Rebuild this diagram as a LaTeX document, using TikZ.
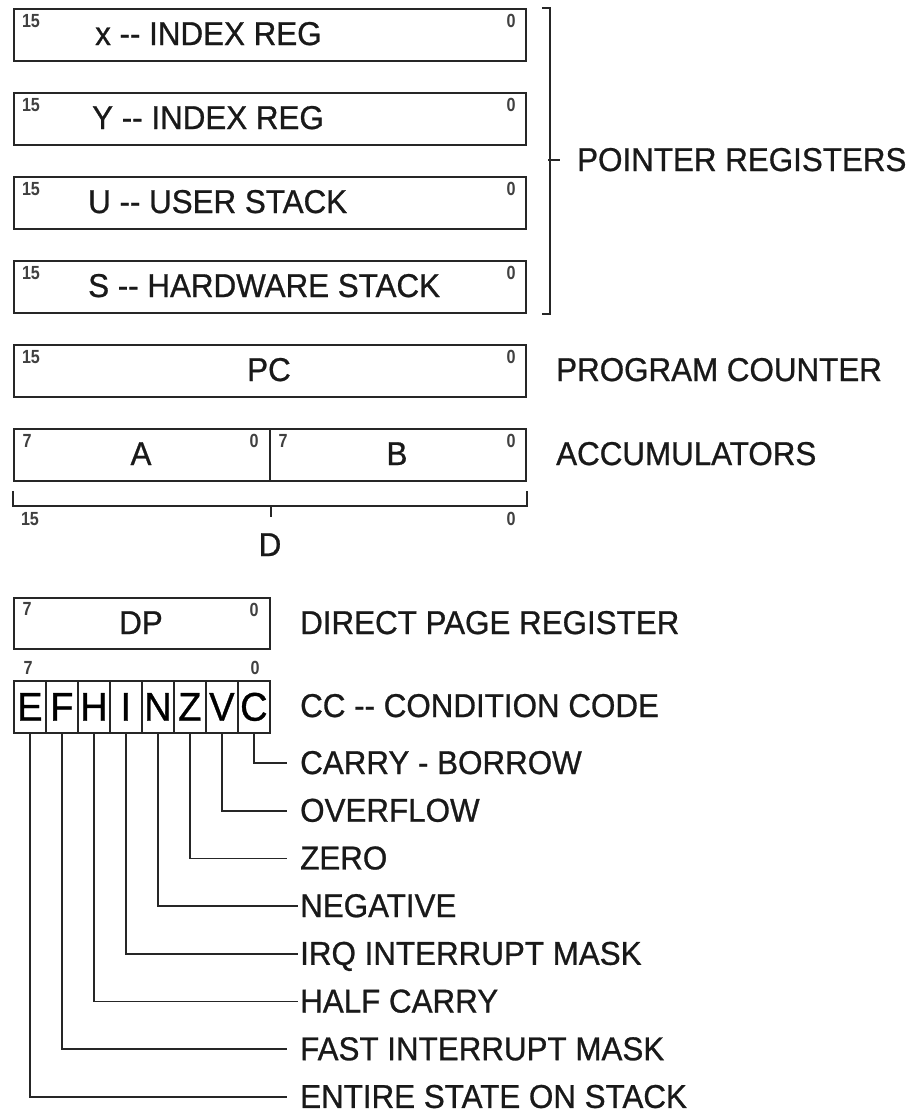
\documentclass[tikz,border=0pt]{standalone}
\usepackage{fontspec}
\setmainfont{Liberation Sans}[FakeStretch=0.95,FakeBold=0.8]
\newfontfamily\bitfont{Liberation Sans}[FakeStretch=0.85]
\begin{document}
\begin{tikzpicture}[x=1pt,y=-1pt,
  reg/.style={draw=black!85, line width=1.8pt, rectangle, inner sep=0pt, anchor=north west, minimum height=52pt},
  lab/.style={font=\fontsize{33}{33}\selectfont, inner sep=0pt, anchor=base west, text=black!90},
  ctr/.style={font=\fontsize{33}{33}\selectfont, inner sep=0pt, anchor=base, text=black!90},
  bit/.style={font=\bitfont\bfseries\fontsize{19}{19}\selectfont, inner sep=0pt, text=black!75},
  cell/.style={draw=black!85, line width=1.8pt, rectangle, inner sep=0pt, anchor=north west, minimum width=32pt, minimum height=52pt, font=\fontsize{40}{40}\selectfont},
  wire/.style={draw=black!85, line width=1.8pt}]
\useasboundingbox (0,0) rectangle (907,1117);
% pointer registers
\node[reg, minimum width=512pt] (X) at (13,8) {};
\node[lab] (Xt) at (95,45) {x -{}- INDEX REG};
\node[bit] (X15) at (31,21) {15};
\node[bit] (X0) at (511,21) {0};
\node[reg, minimum width=512pt] (Y) at (13,92) {};
\node[lab] (Yt) at (92,129) {Y -{}- INDEX REG};
\node[bit] (Y15) at (31,105) {15};
\node[bit] (Y0) at (511,105) {0};
\node[reg, minimum width=512pt] (U) at (13,176) {};
\node[lab] (Ut) at (88,213) {U -{}- USER STACK};
\node[bit] (U15) at (31,189) {15};
\node[bit] (U0) at (511,189) {0};
\node[reg, minimum width=512pt] (S) at (13,260) {};
\node[lab] (St) at (88,297) {S -{}- HARDWARE STACK};
\node[bit] (S15) at (31,273) {15};
\node[bit] (S0) at (511,273) {0};
% bracket
\draw[wire] ([xshift=15pt]X.north east) -- ([xshift=23pt]X.north east) -- ([xshift=23pt]S.south east) -- ([xshift=15pt]S.south east);
\node[lab] (PR) at (577,171) {POINTER REGISTERS};
\coordinate (brm) at (548,160);
\draw[wire] (brm) -- ++(12,0);
% PC
\node[reg, minimum width=512pt] (PC) at (13,344) {};
\node[ctr] (PCt) at (269,381) {PC};
\node[bit] (PC15) at (31,357) {15};
\node[bit] (PC0) at (511,357) {0};
\node[lab] (PCl) at (556,381) {PROGRAM COUNTER};
% accumulators
\node[reg, minimum width=256pt] (A) at (13,428) {};
\node[reg, minimum width=256pt] (B) at (269,428) {};
\node[ctr] (At) at (141,465) {A};
\node[ctr] (Bt) at (397,465) {B};
\node[bit] (A7) at (27,441) {7};
\node[bit] (A0) at (254,441) {0};
\node[bit] (B7) at (283,441) {7};
\node[bit] (B0) at (511,441) {0};
\node[lab] (ACl) at (556,465) {ACCUMULATORS};
% D bracket
\draw[wire] ([yshift=-9pt]A.south west) -- ([yshift=-24pt]A.south west) -- ([yshift=-24pt]B.south east) -- ([yshift=-9pt]B.south east);
\draw[wire] ([yshift=-24pt]A.south east) -- ([yshift=-35pt]A.south east);
\node[bit] (D15) at (30,519) {15};
\node[bit] (D0) at (511,519) {0};
\node[ctr] (Dt) at (270,556) {D};
% DP
\node[reg, minimum width=256pt, minimum height=51pt] (DP) at (13,597) {};
\node[ctr] (DPt) at (141,634) {DP};
\node[bit] (DP7) at (27,609) {7};
\node[bit] (DP0) at (254,610) {0};
\node[lab] (DPl) at (300,634) {DIRECT PAGE REGISTER};
% CC
\node[bit] (CC7) at (28,668) {7};
\node[bit] (CC0) at (255,668) {0};
\foreach \l [count=\i from 0] in {E,F,H,I,N,Z,V,C}
  \node[cell] (c\l) at (13+32*\i,680) {\l};
\node[lab] (CCl) at (300,717) {CC -{}- CONDITION CODE};
% flag labels
\foreach \l/\t/\e [count=\k from 0] in {C/CARRY - BORROW/287, V/OVERFLOW/287, Z/ZERO/287, N/NEGATIVE/298, I/IRQ INTERRUPT MASK/298, H/HALF CARRY/298, F/FAST INTERRUPT MASK/287, E/ENTIRE STATE ON STACK/287}
{
  \coordinate (k\l) at (\e,763+47.7*\k);
  \node[lab] (l\l) at (300,774+47.7*\k) {\t};
  \draw[wire] (c\l.south) |- (k\l);
}
\end{tikzpicture}
\end{document}
